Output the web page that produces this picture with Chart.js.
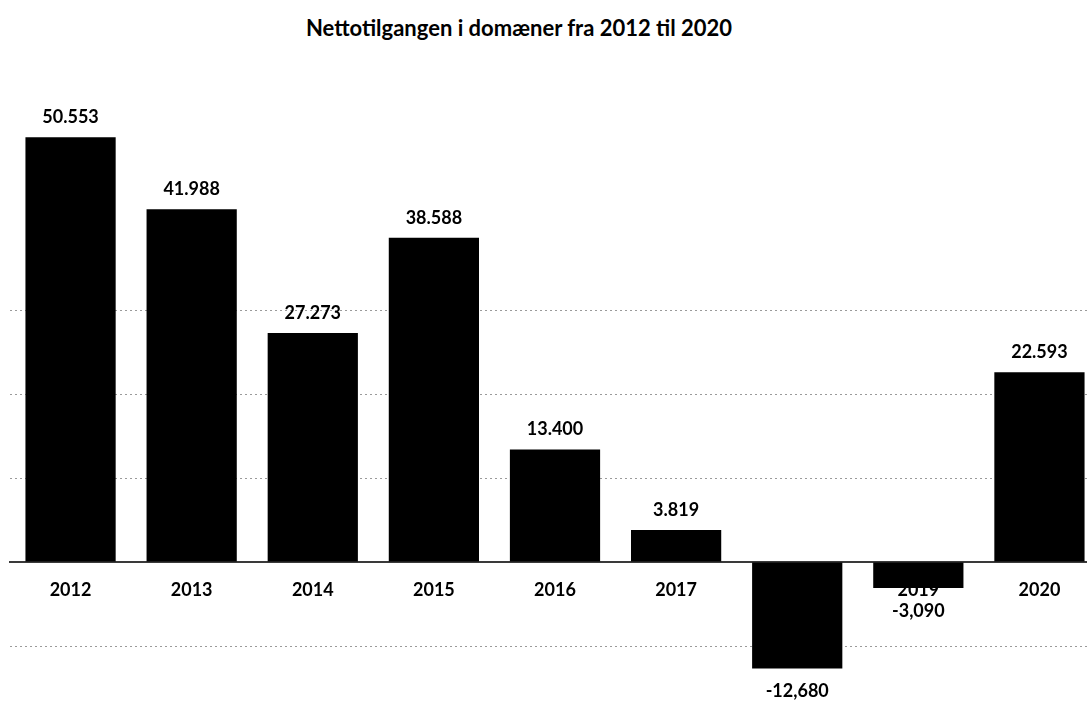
<!DOCTYPE html>
<html>
<head>
<meta charset="utf-8">
<script src="https://cdn.jsdelivr.net/npm/chart.js@4"></script>
<style>
  html, body { margin: 0; padding: 0; background: #fff; overflow: hidden; }
  #wrap { position: relative; width: 1087px; height: 721px; overflow: hidden; }
  #title {
    position: absolute; left: 0; top: 14px; width: 1038px; text-align: center;
    font: bold 22px Lato, sans-serif; color: #000;
  }
  #box { position: absolute; left: 0; top: 0; width: 1100px; height: 740px; }
</style>
</head>
<body>
<div id="wrap">
  <div id="title">Nettotilgangen i domæner fra 2012 til 2020</div>
  <div id="box"><canvas id="c"></canvas></div>
</div>
<script>
// netto tilgang per år
const years = ['2012', '2013', '2014', '2015', '2016', '2017', '2018', '2019', '2020'];
const netGrowth = [50553, 41988, 27273, 38588, 13400, 3819, -12680, -3090, 22593];
const valueLabels = ['50.553', '41.988', '27.273', '38.588', '13.400', '3.819', '-12,680', '-3,090', '22.593'];
const gridValues = [-10000, 10000, 20000, 30000];

const FONT = { family: 'Lato, sans-serif', size: 18, weight: 'bold' };

// tal over/under søjlerne
const barLabels = {
  id: 'barLabels',
  afterDatasetsDraw(chart) {
    const { ctx } = chart;
    const meta = chart.getDatasetMeta(0);
    ctx.save();
    ctx.font = `bold ${FONT.size}px ${FONT.family}`;
    ctx.fillStyle = '#000';
    ctx.textAlign = 'center';
    ctx.textBaseline = 'middle';
    meta.data.forEach((bar, i) => {
      const v = netGrowth[i];
      const y = v >= 0 ? bar.y - 20 : bar.y + 23;
      ctx.fillText(valueLabels[i], bar.x, y);
    });
    ctx.restore();
  },
};

new Chart(document.getElementById('c'), {
  type: 'bar',
  data: {
    labels: years,
    datasets: [{
      data: netGrowth,
      backgroundColor: '#000',
      barPercentage: 0.745,
      categoryPercentage: 1,
    }],
  },
  options: {
    responsive: true,
    maintainAspectRatio: false,
    animation: false,
    layout: { padding: { left: 10, right: 0, top: 58, bottom: 10 } },
    plugins: {
      legend: { display: false },
      tooltip: { enabled: false },
    },
    scales: {
      x: {
        position: { y: 0 },
        grid: { display: false, drawTicks: false },
        border: { display: true, color: '#3a3a3a', width: 2 },
        ticks: { color: '#000', font: FONT, padding: 17 },
      },
      y: {
        min: -20000,
        max: 60000,
        ticks: { display: false, stepSize: 10000 },
        grid: {
          drawTicks: false,
          color: (c) => (gridValues.includes(c.tick.value) ? '#9a9a9a' : 'rgba(0,0,0,0)'),
          lineWidth: 1,
        },
        border: { display: false, dash: [2, 3] },
      },
    },
  },
  plugins: [barLabels],
});
</script>
</body>
</html>
